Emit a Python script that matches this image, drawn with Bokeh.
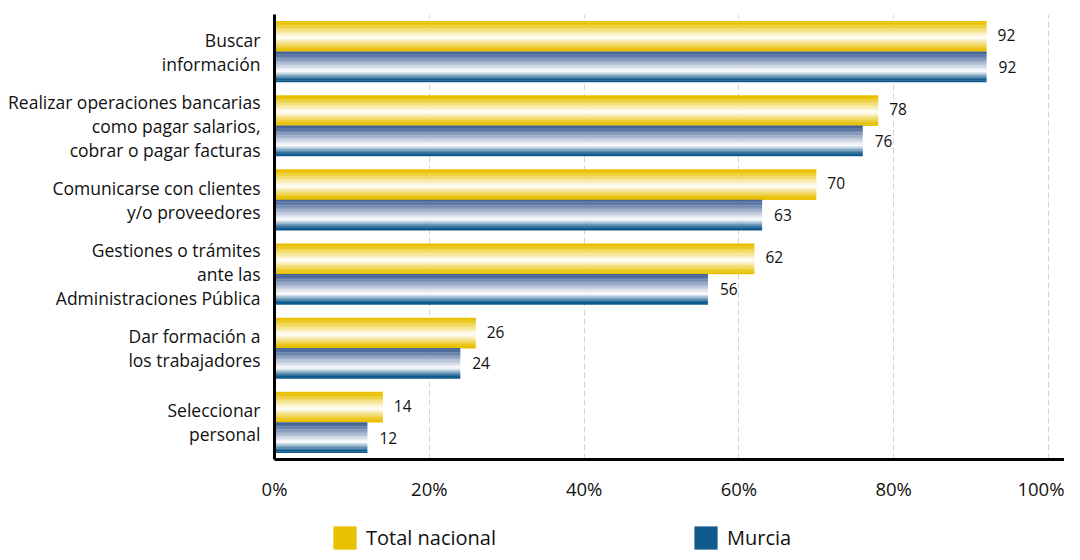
from bokeh.plotting import figure
from bokeh.models import (ColumnDataSource, FactorRange, Range1d, Legend, LegendItem,
                          FixedTicker)
from bokeh.layouts import column
from bokeh.transform import dodge
from bokeh.embed import file_html
from bokeh.resources import INLINE
from bokeh.core.properties import value

categories = [
    "Buscar\ninformación",
    "Realizar operaciones bancarias\ncomo pagar salarios,\ncobrar o pagar facturas",
    "Comunicarse con clientes\ny/o proveedores",
    "Gestiones o trámites\nante las\nAdministraciones Pública",
    "Dar formación a\nlos trabajadores",
    "Seleccionar\npersonal",
]
total_nacional = [92, 78, 70, 62, 26, 14]
murcia = [92, 76, 63, 56, 24, 12]
x_ticks = [0, 20, 40, 60, 80, 100]
tick_labels = ["0%", "20%", "40%", "60%", "80%", "100%"]
series_names = ["Total nacional", "Murcia"]

FONT = "Open Sans"
YELLOW = (232, 192, 0)
BLUE_TOP = (70, 100, 152)
BLUE_BOT = (16, 90, 140)
BLUE_LEG = "#105a8c"

src = ColumnDataSource(dict(
    cat=categories,
    total=total_nacional,
    murcia=murcia,
    total_lbl=[str(v) for v in total_nacional],
    murcia_lbl=[str(v) for v in murcia],
))

W = 1064
H_MAIN, H_LEG = 505, 47
LEFT, TOP, FRAME_H = 274, 14, 445
PX_PER_PCT = 7.74

p = figure(width=W, height=H_MAIN,
           y_range=FactorRange(*reversed(categories)),
           x_range=Range1d(0, (W - LEFT) / PX_PER_PCT),
           output_backend="svg", toolbar_location=None,
           min_border_left=LEFT, min_border_right=0,
           min_border_top=TOP, min_border_bottom=H_MAIN - TOP - FRAME_H)
p.outline_line_color = None
p.background_fill_color = "white"


def hexc(c):
    return "#%02x%02x%02x" % tuple(max(0, min(255, int(round(v)))) for v in c)


def mix(c, w):
    return tuple(c[i] + (255 - c[i]) * w for i in range(3))


def clip(v):
    return max(0.0, min(1.0, v))


BAR_H = 0.41
N = 22


def stripes(field, center, top_col, bot_col, peak):
    for i in range(N):
        t = (i + 0.5) / N
        if t < peak:
            w = clip((t - 0.07) / (peak - 0.07))
            col = mix(top_col, w)
        else:
            w = clip((0.93 - t) / (0.93 - peak))
            col = mix(bot_col, w)
        off = center + BAR_H / 2 - (i + 0.5) * BAR_H / N
        p.hbar(y=dodge("cat", off, range=p.y_range), left=0, right=field,
               height=BAR_H / N * 1.25, source=src,
               fill_color=hexc(col), line_color=None)


stripes("total", BAR_H / 2, YELLOW, YELLOW, 0.55)
stripes("murcia", -BAR_H / 2, BLUE_TOP, BLUE_BOT, 0.65)

# value labels
p.text(x="total", y=dodge("cat", BAR_H / 2 + 0.02, range=p.y_range), text="total_lbl",
       source=src, x_offset=11, text_baseline="middle", text_align="left",
       text_font=value(FONT), text_font_size="15.5px", text_color="#111111")
p.text(x="murcia", y=dodge("cat", -BAR_H / 2, range=p.y_range), text="murcia_lbl",
       source=src, x_offset=12, text_baseline="middle", text_align="left",
       text_font=value(FONT), text_font_size="15.5px", text_color="#111111")

# axes
p.xaxis.ticker = FixedTicker(ticks=x_ticks)
p.xaxis.major_label_overrides = {t: l for t, l in zip(x_ticks, tick_labels)}
p.xaxis.major_tick_line_color = None
p.xaxis.minor_tick_line_color = None
p.xaxis.axis_line_width = 3
p.xaxis.axis_line_color = "black"
p.xaxis.major_label_standoff = 10
p.xaxis.major_label_text_font = FONT
p.xaxis.major_label_text_font_size = "18.5px"
p.xaxis.major_label_text_color = "#111111"

p.yaxis.major_tick_line_color = None
p.yaxis.minor_tick_line_color = None
p.yaxis.axis_line_width = 3
p.yaxis.axis_line_color = "black"
p.yaxis.major_label_standoff = 8
p.yaxis.major_label_text_font = FONT
p.yaxis.major_label_text_font_size = "17.5px"
p.yaxis.major_label_text_color = "#111111"
p.yaxis.major_label_text_line_height = 1.0

p.xgrid.ticker = FixedTicker(ticks=x_ticks[1:])
p.xgrid.grid_line_color = "#d4d4d4"
p.xgrid.grid_line_dash = "6 3"
p.xgrid.grid_line_width = 1
p.ygrid.grid_line_color = None

# legend strip (separate figure so the legend is not clipped)
q = figure(width=W, height=H_LEG, x_range=Range1d(0, 1), y_range=Range1d(0, 1),
           x_axis_type=None, y_axis_type=None,
           output_backend="svg", toolbar_location=None,
           min_border_left=LEFT, min_border_right=0, min_border_top=0, min_border_bottom=0)
q.outline_line_color = None
q.grid.visible = False
# zero-width bars placed outside the range: only their legend swatches show
r1 = q.hbar(y=[-5], left=[0], right=[0], height=0.1, fill_color=hexc(YELLOW), line_color=None)
r2 = q.hbar(y=[-5], left=[0], right=[0], height=0.1, fill_color=BLUE_LEG, line_color=None)
for r, name, xloc in [(r1, series_names[0], 330), (r2, series_names[1], 691)]:
    lg = Legend(items=[LegendItem(label=name, renderers=[r])], location=(xloc - LEFT, 0),
                orientation="horizontal", glyph_width=29, glyph_height=29,
                label_standoff=7, padding=0, margin=0, border_line_color=None,
                background_fill_alpha=0, label_text_font=FONT,
                label_text_font_size="20px", label_text_color="#111111")
    q.add_layout(lg, "center")

open("out.html", "w").write(file_html(column(p, q, spacing=0), INLINE))
